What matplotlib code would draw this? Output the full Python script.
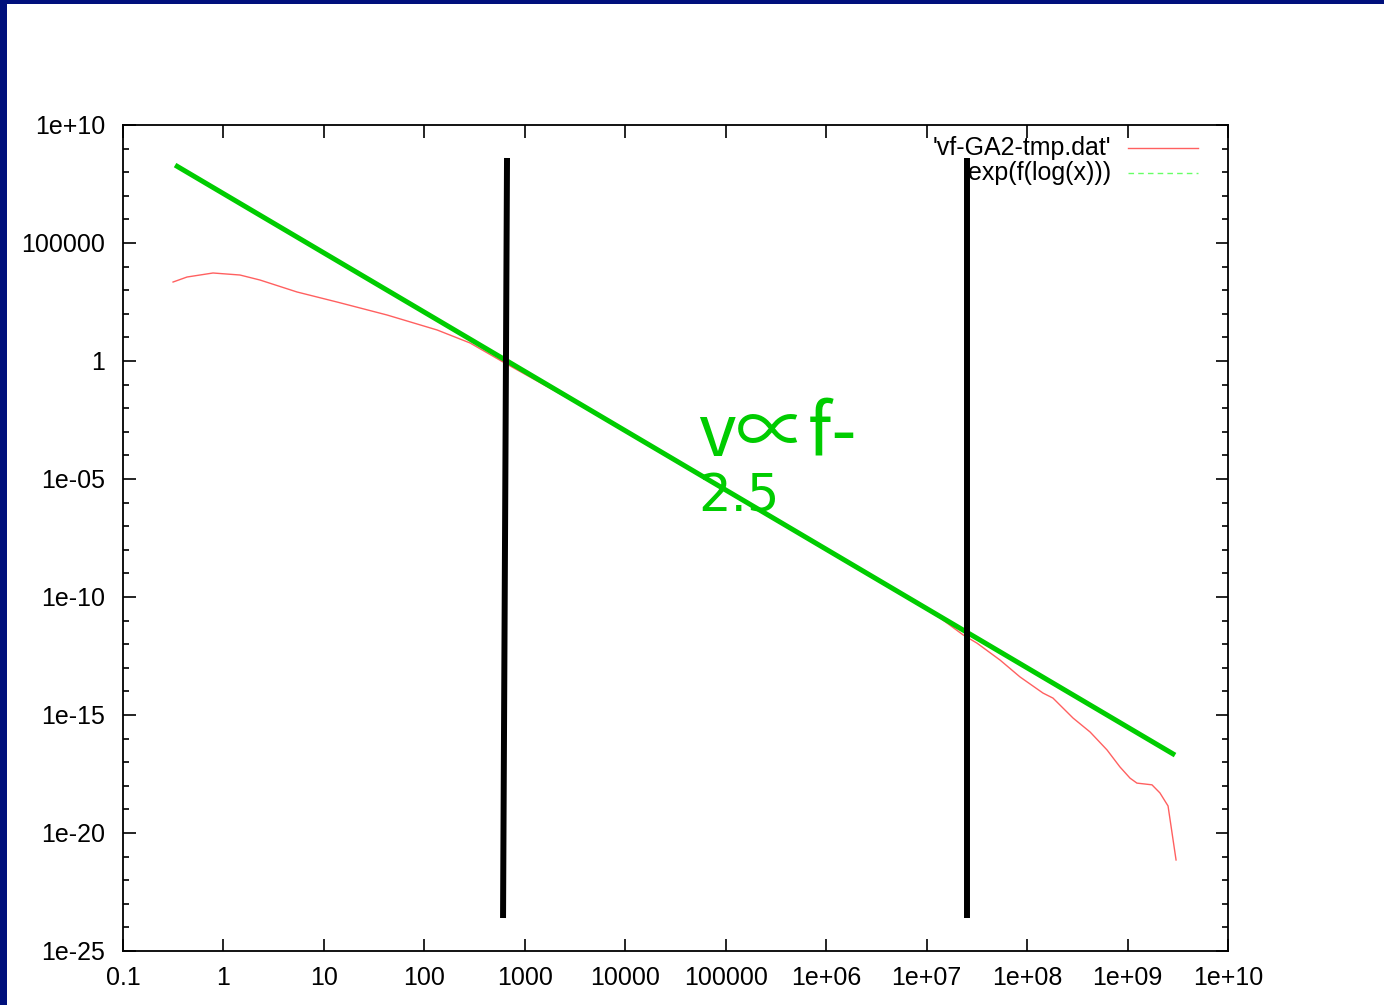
import matplotlib
matplotlib.use("Agg")
import matplotlib.pyplot as plt
from matplotlib.patches import Rectangle
from matplotlib.ticker import LogLocator, FixedLocator, NullLocator, FixedFormatter, NullFormatter

# ---- data ----
red_x = [0.315, 0.434, 0.787, 1.46, 2.31, 5.4, 13.5, 42.5, 134, 285, 607,
         3.16e3, 3.16e4, 3.16e5, 3.16e6, 1.0e7,
         1.36e7, 2.3e7, 3.18e7, 5.4e7, 8.5e7, 1.44e8, 1.81e8, 2.87e8, 4.24e8,
         6.25e8, 8.4e8, 1.06e9, 1.24e9, 1.75e9, 2.1e9, 2.53e9, 3.04e9]
red_y = [2220, 3620, 5360, 4400, 2700, 840, 316, 89, 20.6, 5.8, 0.91,
         1.8e-2, 5.5e-5, 1.7e-7, 5.2e-10, 2.9e-11,
         1.3e-11, 2.5e-12, 1.1e-12, 2.1e-13, 4.1e-14, 8.5e-15, 5.2e-15, 7.4e-16, 1.9e-16,
         3.3e-17, 6.3e-18, 2.1e-18, 1.3e-18, 1.1e-18, 5.0e-19, 1.4e-19, 7.2e-22]

fit_x = [0.33, 2.97e9]
fit_y = [2.0e8, 2.0e-17]

vline1_x = [665, 607]
vline2_x = [2.52e7, 2.52e7]
vline_y = [4e8, 2.5e-24]

xtick_vals = [1e-1, 1, 10, 100, 1000, 1e4, 1e5, 1e6, 1e7, 1e8, 1e9, 1e10]
xtick_labels = ["0.1", "1", "10", "100", "1000", "10000", "100000",
                "1e+06", "1e+07", "1e+08", "1e+09", "1e+10"]
ytick_vals = [1e-25, 1e-20, 1e-15, 1e-10, 1e-05, 1, 1e5, 1e10]
ytick_labels = ["1e-25", "1e-20", "1e-15", "1e-10", "1e-05", "1", "100000", "1e+10"]
legend_labels = ["'vf-GA2-tmp.dat'", "exp(f(log(x)))"]
annotation = ["v\u221df-", "2.5"]

# ---- figure ----
W, H = 1384, 1005
fig = plt.figure(figsize=(W / 100, H / 100), dpi=100)
fig.patch.set_facecolor("white")
navy = "#00107c"
fig.patches.append(Rectangle((0, 1 - 4 / H), 1, 4 / H, transform=fig.transFigure,
                             facecolor=navy, edgecolor="none", zorder=0))
fig.patches.append(Rectangle((0, 0), 7 / W, 1, transform=fig.transFigure,
                             facecolor=navy, edgecolor="none", zorder=0))

left, right, top, bottom = 123, 1228, 125, 951
ax = fig.add_axes([left / W, 1 - bottom / H, (right - left) / W, (bottom - top) / H])
ax.set_xscale("log")
ax.set_yscale("log")
ax.set_xlim(0.1, 1e10)
ax.set_ylim(1e-25, 1e10)

font = "Liberation Sans"
ax.xaxis.set_major_locator(FixedLocator(xtick_vals))
ax.xaxis.set_major_formatter(FixedFormatter(xtick_labels))
ax.xaxis.set_minor_locator(NullLocator())
ax.xaxis.set_minor_formatter(NullFormatter())
ax.yaxis.set_major_locator(FixedLocator(ytick_vals))
ax.yaxis.set_major_formatter(FixedFormatter(ytick_labels))
ax.yaxis.set_minor_locator(LogLocator(base=10, subs=[1.0], numticks=100))
ax.yaxis.set_minor_formatter(NullFormatter())

ax.tick_params(which="major", direction="in", length=9, width=1.2, top=True, right=True,
               labelsize=18, pad=11)
ax.tick_params(which="minor", direction="in", length=4.5, width=1.2, top=True, right=True)
ax.tick_params(axis="y", which="major", pad=13)
for lab in ax.get_xticklabels() + ax.get_yticklabels():
    lab.set_fontfamily(font)
for s in ax.spines.values():
    s.set_linewidth(1.3)

# red data curve
ax.plot(red_x, red_y, color="#ff6060", lw=1.0, zorder=3)
# thick green fit overlay
ax.plot(fit_x, fit_y, color="#00cc00", lw=3.6, zorder=5, solid_capstyle="butt")
# black vertical markers
ax.plot(vline1_x, vline_y, color="black", lw=4.3, zorder=6, solid_capstyle="butt")
ax.plot(vline2_x, vline_y, color="black", lw=4.3, zorder=6, solid_capstyle="butt")

# legend (gnuplot style)
ax.text(0.894, 0.9722, legend_labels[0], transform=ax.transAxes, ha="right", va="center",
        fontsize=18, family=font, zorder=4)
ax.text(0.894, 0.9419, legend_labels[1], transform=ax.transAxes, ha="right", va="center",
        fontsize=18, family=font, zorder=4)
ax.plot([0.9095, 0.9729], [0.9722, 0.9722], transform=ax.transAxes, color="#ff6060", lw=1.0)
ax.plot([0.9095, 0.9729], [0.9419, 0.9419], transform=ax.transAxes, color="#66ff66", lw=1.0,
        linestyle=(0, (4, 3)))

# annotation
fig.text(698 / W, 1 - 456 / H, annotation[0], color="#00cc00", fontsize=52,
         family=["Noto Sans CJK SC", "DejaVu Sans"], ha="left", va="baseline", zorder=10)
fig.text(698 / W, 1 - 511 / H, annotation[1], color="#00cc00", fontsize=37,
         family="DejaVu Sans", ha="left", va="baseline", zorder=10)

fig.savefig("out.png", dpi=100)
